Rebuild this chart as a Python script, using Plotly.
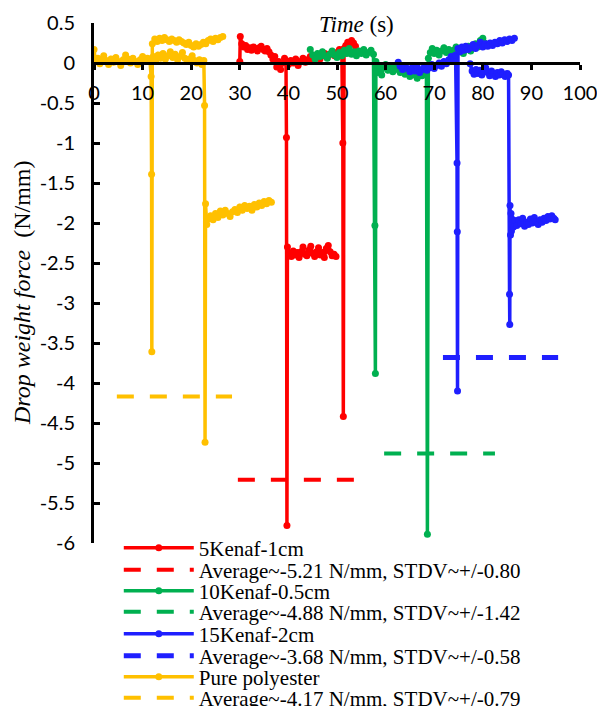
import plotly.graph_objects as go

# ---------------------------------------------------------------------------
# Drop-weight force records (time in s, force in N/mm); each specimen series
# holds two impact tests recorded on a shared time axis.
# ---------------------------------------------------------------------------

# 5Kenaf-1cm
k5_t1_x = [40.0, 40.5, 41.0, 41.5, 42.0, 42.5, 43.0, 43.5, 44.0, 44.5, 45.0, 45.5,
           46.0, 46.5, 47.0, 47.5, 48.0, 48.5, 49.0, 49.5, 50.0, 50.5, 51.0,
           51.2, 51.3, 51.45, 51.8, 52.2, 52.6, 53.0, 53.4, 53.8]
k5_t1_y = [-0.02, 0.03, 0.00, 0.05, -0.03, 0.02, 0.06, 0.01, 0.04, 0.08, 0.03, 0.07,
           0.10, 0.05, 0.09, 0.12, 0.07, 0.11, 0.14, 0.09, 0.13, 0.17, 0.12,
           -1.00, -4.42, 0.18, 0.22, 0.26, 0.24, 0.28, 0.25, 0.21]
k5_t2_x = [30.0, 30.1, 30.4, 30.8, 31.2, 31.6, 32.0, 32.4, 32.8, 33.2, 33.6, 34.0,
           34.4, 34.8, 35.2, 35.6, 36.0, 36.4, 36.8, 37.2, 37.6, 38.0, 38.4, 38.8,
           39.2, 39.5, 39.6, 39.7,
           39.8, 40.2, 40.6, 41.0, 41.4, 41.8, 42.2, 42.6, 43.0, 43.4, 43.8, 44.2,
           44.6, 45.0, 45.4, 45.8, 46.2, 46.6, 47.0, 47.4, 47.8, 48.2, 48.6, 49.0,
           49.4, 49.8]
k5_t2_y = [0.02, 0.33, 0.24, 0.20, 0.22, 0.17, 0.19, 0.16, 0.20, 0.18, 0.15, 0.19,
           0.21, 0.17, 0.15, 0.18, 0.14, 0.10, 0.05, 0.08, -0.05, 0.02, -0.08, 0.00,
           0.06, 0.03, -0.93, -5.78,
           -2.30, -2.38, -2.42, -2.35, -2.40, -2.37, -2.43, -2.36, -2.30, -2.39, -2.41, -2.34,
           -2.29, -2.38, -2.42, -2.36, -2.31, -2.40, -2.37, -2.43, -2.32, -2.28, -2.36, -2.41,
           -2.39, -2.42]

# 10Kenaf-0.5cm
k10_x = [44.5, 45.0, 45.5, 46.0, 46.5, 47.0, 47.5, 48.0, 48.5, 49.0, 49.5, 50.0,
         50.5, 51.0, 51.5, 52.0, 52.5, 53.0, 53.5, 54.0, 54.5, 55.0, 55.5, 56.0,
         56.5, 57.0, 57.5, 57.8, 57.9,
         58.0, 58.4, 58.8, 59.2, 59.6, 60.0, 60.5, 61.0, 61.5, 62.0, 62.5, 63.0,
         63.5, 64.0, 64.5, 65.0, 65.5, 66.0, 66.5, 67.0, 67.5, 68.0, 68.4, 68.6,
         68.8, 69.2, 69.6, 70.0, 70.5, 71.0, 71.5, 72.0, 72.5, 73.0, 73.5, 74.0,
         74.5, 75.0, 75.5, 76.0, 76.5, 77.0, 77.5, 78.0, 78.5, 79.0, 79.5, 80.0, 80.4]
k10_y = [0.17, 0.10, 0.05, 0.12, 0.08, 0.14, 0.09, 0.06, 0.11, 0.15, 0.10, 0.07,
         0.13, 0.09, 0.16, 0.12, 0.18, 0.11, 0.14, 0.09, 0.15, 0.12, 0.17, 0.10,
         0.13, 0.16, 0.11, -2.03, -3.88,
         0.02, -0.12, -0.04, -0.15, -0.06, -0.02, -0.09, -0.05, -0.11, -0.03, -0.08, -0.12,
         -0.06, -0.14, -0.09, -0.17, -0.11, -0.15, -0.19, -0.12, -0.16, -0.10, -0.14, -5.89,
         0.06, 0.13, 0.18, 0.12, 0.16, 0.10, 0.15, 0.19, 0.13, 0.17, 0.11, 0.16,
         0.20, 0.14, 0.18, 0.12, 0.17, 0.21, 0.15, 0.19, 0.24, 0.20, 0.28, 0.31, 0.25]

# 15Kenaf-2cm
k15_t1_x = [62.6, 63.0, 63.5, 64.0, 64.5, 65.0, 65.5, 66.0, 66.5, 67.0, 67.5, 68.0,
            68.5, 69.0, 69.5, 70.0, 70.5, 71.0, 71.5, 72.0, 72.5, 73.0, 73.5, 74.0,
            74.4, 74.7, 74.75, 74.8,
            74.9, 75.3, 75.7, 76.1, 76.5, 77.0, 77.5, 78.0, 78.5, 79.0, 79.5, 80.0,
            80.5, 81.0, 81.5, 82.0, 82.5, 83.0, 83.5, 84.0, 84.5, 85.0, 85.5, 86.0, 86.5]
k15_t1_y = [0.01, -0.04, -0.08, -0.03, -0.07, -0.11, -0.06, -0.10, -0.05, -0.12, -0.08, -0.04,
            -0.09, -0.06, -0.02, -0.07, -0.03, 0.00, -0.04, 0.02, -0.01, 0.04, 0.08, 0.05,
            0.10, -1.25, -2.11, -4.10,
            0.18, 0.14, 0.20, 0.16, 0.21, 0.17, 0.19, 0.23, 0.18, 0.22, 0.26, 0.20,
            0.24, 0.21, 0.25, 0.22, 0.26, 0.24, 0.28, 0.25, 0.29, 0.27, 0.30, 0.28, 0.31]
k15_t2_x = [77.4, 77.8, 78.2, 78.6, 79.0, 79.4, 79.8, 80.2, 80.6, 81.0, 81.4, 81.8,
            82.2, 82.6, 83.0, 83.4, 83.8, 84.2, 84.6, 85.0, 85.3, 85.5, 85.55,
            85.6, 85.7, 85.8, 85.9, 86.0, 86.3, 86.6, 87.0, 87.4, 87.8, 88.2, 88.6,
            89.0, 89.4, 89.8, 90.2, 90.6, 91.0, 91.4, 91.8, 92.2, 92.6, 93.0, 93.4,
            93.8, 94.2, 94.6, 94.9]
k15_t2_y = [-0.01, -0.10, -0.14, -0.08, -0.13, -0.09, -0.15, -0.11, -0.06, -0.12, -0.16, -0.10,
            -0.13, -0.17, -0.12, -0.15, -0.11, -0.14, -0.17, -0.13, -0.15, -2.89, -3.27,
            -1.78, -2.15, -1.88, -2.10, -1.95, -2.05, -1.97, -2.03, -1.96, -2.01, -1.94, -2.04,
            -1.99, -2.02, -1.95, -2.00, -1.93, -1.98, -2.02, -1.96, -1.99, -1.94, -1.97, -1.92,
            -1.95, -1.91, -1.94, -1.96]

# Pure polyester
pp_t1_x = [0.0, 0.3, 0.8, 1.2, 1.6, 2.0, 2.5, 3.0, 3.5, 4.0, 4.5, 5.0, 5.5, 6.0,
           6.5, 7.0, 7.5, 8.0, 8.5, 9.0, 9.5, 10.0, 10.5, 11.0, 11.5,
           11.75, 11.85, 11.9,
           12.0, 12.5, 13.0, 13.5, 14.0, 14.5, 15.0, 15.5, 16.0, 16.5, 17.0, 17.5,
           18.0, 18.5, 19.0, 19.5, 20.0, 20.5, 21.0, 21.5, 22.0, 22.5, 23.0, 23.5,
           24.0, 24.5, 25.0, 25.5, 26.0, 26.5]
pp_t1_y = [0.17, 0.02, 0.06, -0.01, 0.04, 0.09, 0.03, -0.02, 0.05, 0.01, 0.07, 0.02, -0.03, 0.04,
           0.10, 0.05, 0.00, 0.06, 0.02, -0.02, 0.04, 0.08, 0.03, 0.06, 0.05,
           -0.17, -1.39, -3.61,
           0.24, 0.30, 0.27, 0.31, 0.28, 0.32, 0.29, 0.27, 0.30, 0.28, 0.26, 0.29,
           0.27, 0.25, 0.23, 0.26, 0.22, 0.20, 0.24, 0.21, 0.23, 0.26, 0.24, 0.28,
           0.30, 0.27, 0.31, 0.29, 0.32, 0.33]
pp_t2_x = [12.2, 12.7, 13.2, 13.7, 14.2, 14.7, 15.2, 15.7, 16.2, 16.7, 17.2, 17.7,
           18.2, 18.7, 19.2, 19.7, 20.2, 20.7, 21.2, 21.7, 22.2, 22.6, 22.75, 22.85,
           22.95, 23.2, 23.5, 24.0, 24.5, 25.0, 25.5, 26.0, 26.5, 27.0, 27.5, 28.0,
           28.5, 29.0, 29.5, 30.0, 30.5, 31.0, 31.5, 32.0, 32.5, 33.0, 33.5, 34.0,
           34.5, 35.0, 35.5, 36.0, 36.5]
pp_t2_y = [0.08, 0.03, 0.10, 0.06, 0.12, 0.05, 0.09, 0.14, 0.07, 0.11, 0.04, 0.08,
           0.13, 0.06, 0.02, 0.05, 0.09, 0.03, 0.00, 0.04, -0.02, 0.03, -0.53, -4.74,
           -1.76, -2.02, -1.95, -1.91, -1.96, -1.88, -1.93, -1.85, -1.90, -1.84, -1.88, -1.92,
           -1.86, -1.83, -1.87, -1.80, -1.84, -1.78, -1.82, -1.79, -1.84, -1.77, -1.80, -1.75,
           -1.78, -1.73, -1.76, -1.72, -1.74]

# Peak-force averages per specimen, drawn as dashed reference levels
series_names = ["5Kenaf-1cm", "10Kenaf-0.5cm", "15Kenaf-2cm", "Pure polyester"]
avg_force = [-5.21, -4.88, -3.68, -4.17]
avg_stdv = [0.80, 1.42, 0.58, 0.79]
avg_from = [29.6, 59.7, 71.8, 4.7]
avg_to = [53.5, 82.5, 95.5, 28.4]

y_ticks = [0.5, 0, -0.5, -1, -1.5, -2, -2.5, -3, -3.5, -4, -4.5, -5, -5.5, -6]
x_ticks = [0, 10, 20, 30, 40, 50, 60, 70, 80, 90, 100]

# ---------------------------------------------------------------------------
colors = ["#FF0000", "#00B050", "#1F1FFF", "#FFC000"]
avg_widths = [4, 4, 5, 4]
runs = [
    [(k5_t1_x, k5_t1_y), (k5_t2_x, k5_t2_y)],
    [(k10_x, k10_y)],
    [(k15_t1_x, k15_t1_y), (k15_t2_x, k15_t2_y)],
    [(pp_t1_x, pp_t1_y), (pp_t2_x, pp_t2_y)],
]

SERIF = "Liberation Serif, Times New Roman, serif"
fig = go.Figure()

legend_ids = []
for i, name in enumerate(series_names):
    solid_id = "legend" if i == 0 else f"legend{2 * i + 1}"
    avg_id = f"legend{2 * i + 2}"
    legend_ids += [solid_id, avg_id]
    for j, (xs, ys) in enumerate(runs[i]):
        fig.add_trace(go.Scatter(
            x=xs, y=ys, mode="lines+markers", name=name,
            legendgroup=name, showlegend=(j == 0), legend=solid_id,
            line=dict(color=colors[i], width=3.5),
            marker=dict(color=colors[i], size=7),
        ))
    fig.add_trace(go.Scatter(
        x=[avg_from[i], avg_to[i]], y=[avg_force[i], avg_force[i]],
        mode="lines", legend=avg_id,
        name=f"Average~{avg_force[i]:.2f} N/mm, STDV~+/-{avg_stdv[i]:.2f}",
        line=dict(color=colors[i], width=avg_widths[i], dash="17px,16px"),
    ))

# one legend per entry so the rows sit as tightly as in the figure
row_px = [548, 570, 591, 612, 634, 656, 677, 698]
plot_top, plot_bottom = 23, 543
legend_layout = {}
for lid, py in zip(legend_ids, row_px):
    legend_layout[lid] = dict(
        x=0.051, xanchor="left",
        y=(plot_bottom - py) / (plot_bottom - plot_top), yanchor="middle",
        font=dict(family=SERIF, size=21, color="black"),
        bgcolor="rgba(0,0,0,0)", borderwidth=0, itemwidth=70,
        itemclick=False, itemdoubleclick=False,
    )

TICKFONT = dict(family="Lato, Carlito, sans-serif", size=20, color="black")

fig.update_layout(
    width=597, height=706,
    margin=dict(l=94, r=17, t=plot_top, b=706 - plot_bottom, autoexpand=False),
    paper_bgcolor="white", plot_bgcolor="white",
    showlegend=True,
    xaxis=dict(
        range=[0, 100], tickvals=x_ticks, ticktext=[str(v) for v in x_ticks],
        anchor="free", position=6 / 6.5,
        showline=True, linecolor="black", linewidth=3,
        ticks="outside", ticklen=5, tickwidth=3, tickcolor="black",
        showgrid=False, zeroline=False, tickfont=TICKFONT,
        ticklabelstandoff=6, ticklabeloverflow="allow",
    ),
    yaxis=dict(
        range=[-6, 0.5], tickvals=y_ticks,
        ticktext=[f"{v:g}" for v in y_ticks],
        showline=True, linecolor="black", linewidth=3,
        ticks="inside", ticklen=6, tickwidth=3, tickcolor="black",
        showgrid=False, zeroline=False, tickfont=TICKFONT,
        ticklabelstandoff=12, ticklabeloverflow="allow",
    ),
    annotations=[
        dict(text="<i>Time</i> (s)", xref="paper", yref="paper",
             x=(356 - 94) / 486, y=(plot_bottom - 25) / 520,
             xanchor="center", yanchor="middle", showarrow=False,
             font=dict(family=SERIF, size=23, color="black")),
        dict(text="<i>Drop weight force</i>\u00a0\u00a0(N/mm)", xref="paper", yref="paper",
             x=(22 - 94) / 486, y=(plot_bottom - 293) / 520, textangle=-90,
             xanchor="center", yanchor="middle", showarrow=False,
             font=dict(family=SERIF, size=24, color="black")),
    ],
    **legend_layout,
)

fig.write_html("out.html")
